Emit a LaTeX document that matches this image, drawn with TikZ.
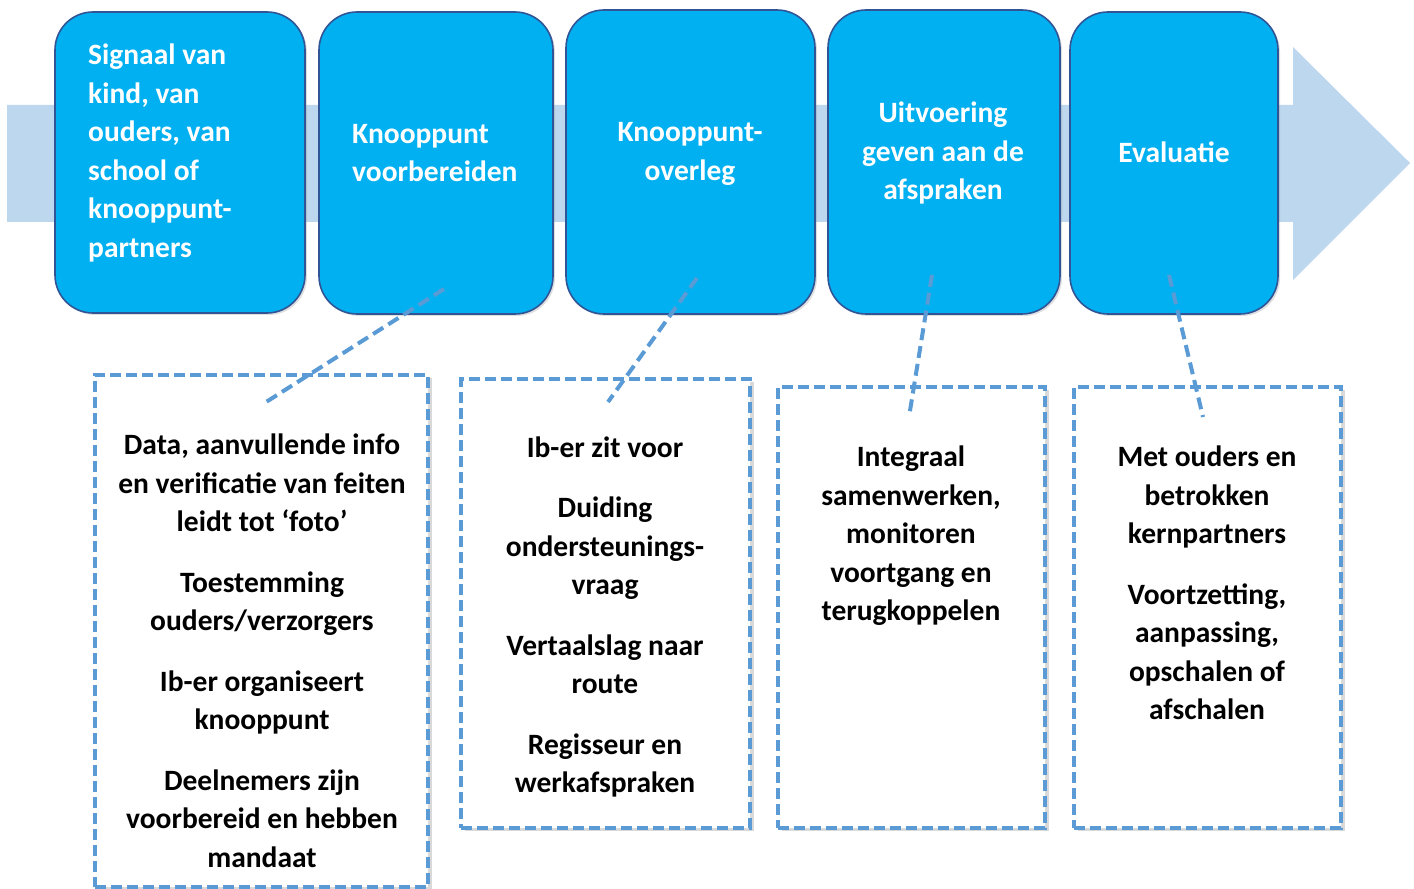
\documentclass[tikz,border=0pt]{standalone}
\usepackage{fontspec}
\setmainfont{Carlito}
\usetikzlibrary{shadows}

\definecolor{stepblue}{HTML}{00B0F0}
\definecolor{stepedge}{HTML}{2F5597}
\definecolor{bandblue}{HTML}{BDD7EE}
\definecolor{noteblue}{HTML}{5B9BD5}

\tikzset{
  stepbox/.style={draw=stepedge, line width=1.6pt, fill=stepblue, rounded corners=38pt,
    inner sep=0pt, drop shadow={shadow xshift=2pt, shadow yshift=-2pt, opacity=0.25}},
  steptext/.style={text=white, font=\fontsize{29.5}{38.5}\selectfont\bfseries, inner sep=0pt},
  notebox/.style={draw=noteblue, line width=3.2pt, dash pattern=on 11pt off 5pt, fill=white,
    inner sep=0pt, drop shadow={shadow xshift=4pt, shadow yshift=-3pt, opacity=0.3}},
  notetext/.style={font=\fontsize{29.5}{38.5}\selectfont\bfseries, align=center, inner sep=0pt},
  link/.style={draw=noteblue, line width=4pt, dash pattern=on 12pt off 6pt}
}

\begin{document}
\begin{tikzpicture}[x=1pt,y=1pt]
\useasboundingbox (0,0) rectangle (1414,889);

% band with arrow head
\fill[bandblue] (7,784) -- (1293,784) -- (1293,842) -- (1410,726) -- (1293,609)
  -- (1293,667) -- (7,667) -- cycle;

% steps
\node[stepbox, minimum width=250pt, minimum height=301pt] (s1) at (180,726.5) {};
\node[stepbox, minimum width=234pt, minimum height=302pt] (s2) at (436,726) {};
\node[stepbox, minimum width=249pt, minimum height=304pt] (s3) at (690.5,727) {};
\node[stepbox, minimum width=232pt, minimum height=304pt] (s4) at (944,727) {};
\node[stepbox, minimum width=208pt, minimum height=302pt] (s5) at (1174,726) {};

\node[steptext, anchor=west, align=left] (t1) at (88,736)
  {Signaal van\\kind, van\\ouders, van\\school of\\knooppunt-\\partners};
\node[steptext, anchor=west, align=left] (t2) at (352,736) {Knooppunt\\voorbereiden};
\node[steptext, align=center] (t3) at (690,735) {Knooppunt-\\overleg};
\node[steptext, align=center] (t4) at (943,736) {Uitvoering\\geven aan de\\afspraken};
\node[steptext, align=center] (t5) at (1174,737) {Evaluatie};

% notes
\node[notebox, minimum width=333pt, minimum height=512pt] (n1) at (261.5,258) {};
\node[notebox, minimum width=289pt, minimum height=449pt] (n2) at (605.5,285.5) {};
\node[notebox, minimum width=267pt, minimum height=441pt] (n3) at (911.5,281.5) {};
\node[notebox, minimum width=267pt, minimum height=441pt] (n4) at (1207.5,281.5) {};

\node[notetext] (m1) at (262,238)
  {Data, aanvullende info\\en verificatie van feiten\\leidt tot ‘foto’\\[22pt]
   Toestemming\\ouders/verzorgers\\[22pt]Ib-er organiseert\\knooppunt\\[22pt]
   Deelnemers zijn\\voorbereid en hebben\\mandaat};
\node[notetext] (m2) at (605,272)
  {Ib-er zit voor\\[22pt]Duiding\\ondersteunings-\\vraag\\[22pt]Vertaalslag naar\\route\\[22pt]
   Regisseur en\\werkafspraken};
\node[notetext] (m3) at (911,353)
  {Integraal\\samenwerken,\\monitoren\\voortgang en\\terugkoppelen};
\node[notetext] (m4) at (1207,306)
  {Met ouders en\\betrokken\\kernpartners\\[22pt]Voortzetting,\\aanpassing,\\opschalen of\\afschalen};

% links
\coordinate (a1) at (444,600); \coordinate (b1) at (263,485);
\coordinate (a2) at (697,611); \coordinate (b2) at (608,487);
\coordinate (a3) at (932,614); \coordinate (b3) at (909,472);
\coordinate (a4) at (1169,614); \coordinate (b4) at (1203,472);
\draw[link] (a1) -- (b1);
\draw[link] (a2) -- (b2);
\draw[link] (a3) -- (b3);
\draw[link] (a4) -- (b4);
\end{tikzpicture}
\end{document}
